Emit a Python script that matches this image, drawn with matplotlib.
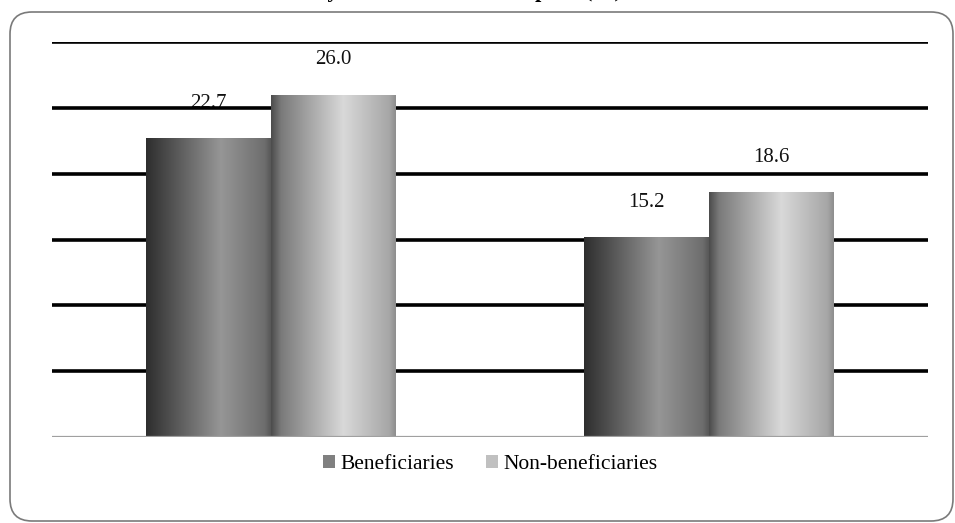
import matplotlib
matplotlib.use('Agg')
import numpy as np
import matplotlib.pyplot as plt
from matplotlib.colors import LinearSegmentedColormap
from matplotlib.patches import FancyBboxPatch, Patch
from matplotlib.transforms import IdentityTransform

groups = ['Group 1', 'Group 2']
series = ['Beneficiaries', 'Non-beneficiaries']
beneficiaries = [22.7, 15.2]
non_beneficiaries = [26.0, 18.6]
grid_levels = [5, 10, 15, 20, 25, 30]

plt.rcParams['font.family'] = ['Liberation Serif', 'DejaVu Serif']

# cylinder-like shading for each series
shade_b = LinearSegmentedColormap.from_list('shade_b', [
  (0.0, '#2e2e2e'), (0.6, '#969696'), (0.95, '#6e6e6e'), (1.0, '#585858')])
shade_n = LinearSegmentedColormap.from_list('shade_n', [
  (0.0, '#4c4c4c'), (0.08, '#7a7a7a'), (0.58, '#d9d9d9'), (0.95, '#a6a6a6'), (1.0, '#8e8e8e')])

fig = plt.figure(figsize=(9.55, 5.23), dpi=100)
ax = fig.add_axes([0.0545, 0.1644, 0.9175, 0.7553])

x = np.arange(len(groups))
w = 0.285
ramp = np.linspace(0, 1, 256)[np.newaxis, :]

for vals, off, cmap in [(beneficiaries, -w / 2, shade_b), (non_beneficiaries, w / 2, shade_n)]:
  bars = ax.bar(x + off, vals, w, color='none', edgecolor='none', zorder=3)
  for rect, v in zip(bars, vals):
    x0 = rect.get_x()
    im = ax.imshow(ramp, cmap=cmap, extent=(x0, x0 + w, 0, v), aspect='auto',
                   interpolation='bilinear', zorder=3)
    im.set_clip_path(rect)
    ax.annotate('%.1f' % v, xy=(rect.get_x() + w / 2, v), xytext=(0, 25),
                textcoords='offset points', ha='center', va='center',
                fontsize=15, color='#111111', zorder=1)

for g in grid_levels:
  ax.axhline(g, color='#000000', lw=2.6, zorder=2)
ax.axhline(0, color='#a0a0a0', lw=1.6, zorder=4)

ax.set_xlim(-0.5, 1.5)
ax.set_ylim(0, 30)
ax.set_xticks([])
ax.set_yticks([])
for s in ax.spines.values():
  s.set_visible(False)
ax.patch.set_alpha(0)

handles = [Patch(facecolor='#808080'), Patch(facecolor='#c0c0c0')]
ax.legend(handles, series, loc='center', bbox_to_anchor=(0.5, -0.07), ncol=2,
          frameon=False, fontsize=15.5, handlelength=0.55, handleheight=0.55,
          handletextpad=0.25, columnspacing=1.5)

# rounded outer frame
frame = FancyBboxPatch((10, 2), 943, 509, boxstyle='round,pad=0,rounding_size=22',
                       transform=IdentityTransform(), facecolor='none',
                       edgecolor='#7a7a7a', lw=1.2)
fig.patches.append(frame)

# heading sits above the top edge, only its descenders show
fig.text(622.0 / 955, 1 + 3.5 / 523, 'Share of beneficiary households that are poor (%)',
         ha='right', va='baseline', fontsize=16, fontweight='bold')

plt.savefig('out.png', dpi=100)
plt.close()
